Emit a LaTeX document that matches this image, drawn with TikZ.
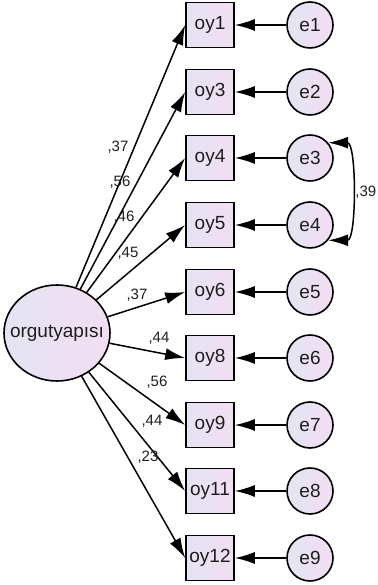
\documentclass[tikz,border=0pt]{standalone}
\usepackage{fontspec}
\setmainfont{Liberation Sans}
\usetikzlibrary{arrows.meta,shapes.geometric}

\definecolor{boxleft}{RGB}{228,228,242}
\definecolor{boxright}{RGB}{242,222,242}
\definecolor{txtgray}{RGB}{30,30,30}

\begin{document}
\begin{tikzpicture}[x=1pt,y=1pt,
		item/.style={draw,line width=1.6pt,left color=boxleft,right color=boxright,minimum width=48pt,minimum height=45pt,inner sep=0pt,font=\fontsize{19}{21}\selectfont,text=txtgray},
		err/.style={draw,circle,line width=1.6pt,left color=boxleft,right color=boxright,minimum size=46pt,inner sep=0pt,font=\fontsize{19}{21}\selectfont,text=txtgray},
		latent/.style={draw,ellipse,line width=1.6pt,left color=boxleft,right color=boxright,minimum width=106pt,minimum height=96pt,inner sep=0pt},
		path/.style={line width=1.5pt,-{Latex[length=20pt,width=12pt]}},
		cov/.style={line width=1.5pt,{Latex[length=20pt,width=12pt]}-{Latex[length=20pt,width=12pt]}},
		coef/.style={font=\fontsize{15}{17}\selectfont,text=txtgray,inner sep=0pt}]
	\useasboundingbox (0,0) rectangle (377,585);
	\node[latent] (lat) at (57,252) {};
	\node[font=\fontsize{19}{21}\selectfont,text=txtgray,inner sep=0pt] (latname) at (lat) {orgutyapısı};
	\node[item] (oy1) at (210,560) {oy1};
	\node[item] (oy3) at (210,493) {oy3};
	\node[item] (oy4) at (210,427) {oy4};
	\node[item] (oy5) at (210,360) {oy5};
	\node[item] (oy6) at (210,293) {oy6};
	\node[item] (oy8) at (210,227) {oy8};
	\node[item] (oy9) at (210,160) {oy9};
	\node[item] (oy11) at (210,94) {oy11};
	\node[item] (oy12) at (210,27) {oy12};
	\node[err] (e1) at (310,560) {e1};
	\node[err] (e2) at (310,493) {e2};
	\node[err] (e3) at (310,427) {e3};
	\node[err] (e4) at (310,360) {e4};
	\node[err] (e5) at (310,293) {e5};
	\node[err] (e6) at (310,227) {e6};
	\node[err] (e7) at (310,160) {e7};
	\node[err] (e8) at (310,94) {e8};
	\node[err] (e9) at (310,27) {e9};
	\draw[path] (lat) -- (oy1.west);
	\draw[path] (lat) -- (oy3.west);
	\draw[path] (lat) -- (oy4.west);
	\draw[path] (lat) -- (oy5.west);
	\draw[path] (lat) -- (oy6.west);
	\draw[path] (lat) -- (oy8.west);
	\draw[path] (lat) -- (oy9.west);
	\draw[path] (lat) -- (oy11.west);
	\draw[path] (lat) -- (oy12.west);
	\draw[path] (e1) -- (oy1);
	\draw[path] (e2) -- (oy3);
	\draw[path] (e3) -- (oy4);
	\draw[path] (e4) -- (oy5);
	\draw[path] (e5) -- (oy6);
	\draw[path] (e6) -- (oy8);
	\draw[path] (e7) -- (oy9);
	\draw[path] (e8) -- (oy11);
	\draw[path] (e9) -- (oy12);
	\draw[cov] (e3.40) to[out=0,in=0,looseness=0.75] (e4.-40);
	\node[coef] (c1) at (118,438) {,37};
	\node[coef] (c3) at (120,403) {,56};
	\node[coef] (c4) at (124,368) {,46};
	\node[coef] (c5) at (128,332) {,45};
	\node[coef] (c6) at (137,290) {,37};
	\node[coef] (c8) at (159,247) {,44};
	\node[coef] (c9) at (157,203) {,56};
	\node[coef] (c11) at (152,164) {,44};
	\node[coef] (c12) at (148,128) {,23};
	\node[coef,anchor=east] (c34) at (376.5,393) {,39};
\end{tikzpicture}
\end{document}
